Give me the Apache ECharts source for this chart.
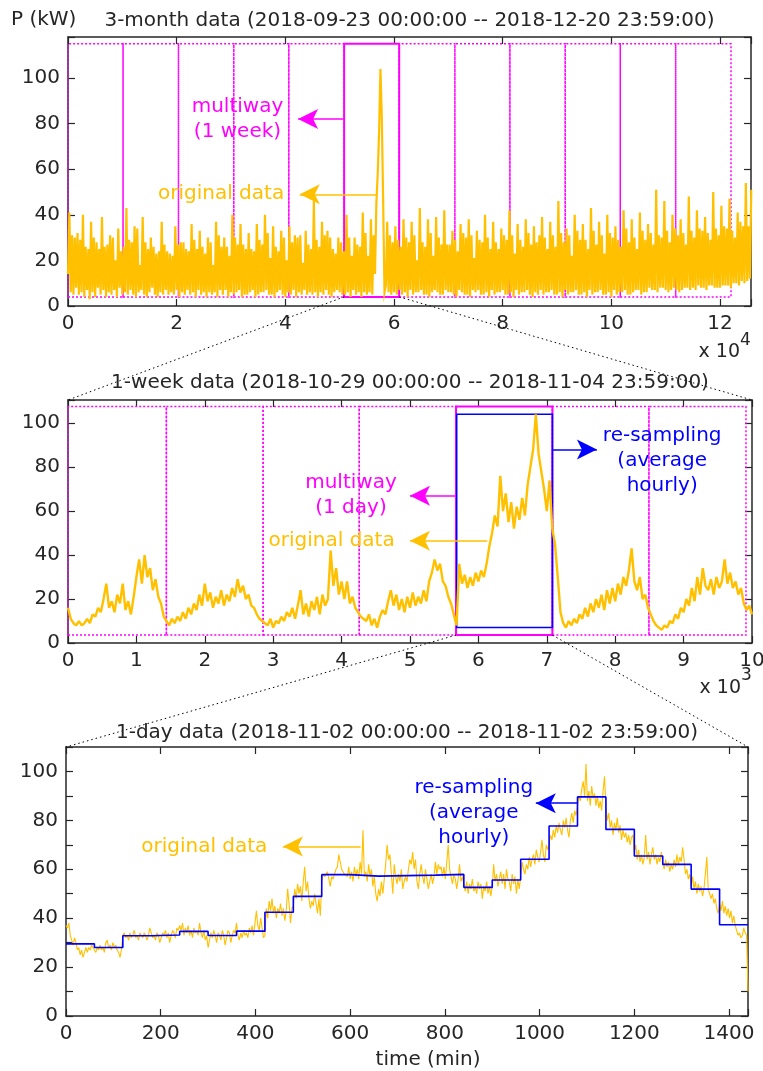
<!DOCTYPE html>
<html>
<head>
<meta charset="utf-8">
<script src="https://cdn.jsdelivr.net/npm/echarts@6/dist/echarts.min.js"></script>
<style>
  html, body { margin: 0; padding: 0; background: #ffffff; }
  #chart { width: 763px; height: 1071px; }
</style>
</head>
<body>
<div id="chart"></div>
<script>
// ---------------- data ----------------
// 3-month record: one value every 250 samples (minutes index)
const monthStep = 250;
const monthP = [
  14, 41, 6, 31, 5, 30,   8, 32, 5, 29, 6, 40,    4, 26, 7, 25, 3, 37,
  6, 30, 4, 28, 8, 25,    5, 39, 7, 26, 4, 27,    6, 31, 5, 30, 7, 20,
  4, 34, 8, 24, 5, 26,    6, 43, 5, 29, 7, 28,    5, 35, 4, 34, 6, 18,
  7, 39, 5, 28, 4, 25,    6, 30, 8, 26, 5, 23,    4, 24, 6, 37, 5, 27,
  7, 24, 5, 23, 6, 22,    5, 35, 7, 27, 4, 28,    6, 28, 5, 25, 7, 24,
  5, 36, 6, 29, 4, 25,    7, 33, 5, 26, 6, 23,    4, 30, 6, 28, 5, 18,
  6, 37, 4, 31, 7, 26,    5, 30, 7, 26, 4, 22,    6, 40, 5, 30, 6, 27,
  7, 36, 4, 27, 5, 25,    5, 32, 6, 25, 7, 24,    4, 36, 5, 29, 6, 27,
  6, 40, 7, 32, 5, 21,    5, 35, 4, 26, 6, 24,    7, 33, 5, 30, 4, 20,
  6, 35, 5, 28, 7, 31,    4, 30, 6, 31, 5, 19,    7, 33, 5, 27, 6, 25,
  5, 46, 6, 29, 4, 26,    6, 37, 5, 31, 7, 33,    5, 30, 4, 25, 6, 23,
  7, 30, 6, 28, 5, 24,    5, 40, 6, 30, 4, 22,    7, 30, 5, 27, 6, 26,
  4, 41, 6, 32, 5, 22,    6, 38, 5, 31, 14, 45,   58, 76, 104, 83, 46, 6,
  9, 37, 6, 31, 5, 28,    6, 35, 5, 29, 7, 26,    5, 38, 6, 30, 4, 28,
  7, 37, 5, 31, 6, 20,    6, 43, 7, 28, 5, 26,    5, 38, 4, 32, 6, 22,
  7, 39, 6, 30, 5, 27,    5, 42, 7, 27, 6, 27,    6, 33, 5, 29, 4, 24,
  7, 36, 6, 32, 5, 30,    5, 38, 4, 31, 7, 21,    6, 33, 7, 29, 5, 28,
  5, 40, 6, 30, 4, 25,    7, 37, 5, 28, 6, 25,    6, 34, 7, 31, 5, 29,
  5, 42, 6, 31, 4, 23,    7, 36, 5, 29, 6, 26,    6, 38, 7, 32, 5, 27,
  4, 35, 6, 28, 5, 31,    7, 39, 5, 30, 6, 25,    6, 37, 7, 31, 5, 26,
  5, 46, 6, 32, 4, 28,    7, 34, 5, 31, 6, 22,    6, 40, 7, 33, 5, 29,
  5, 36, 6, 29, 4, 25,    7, 43, 5, 33, 6, 27,    6, 37, 7, 31, 5, 23,
  5, 40, 6, 32, 4, 30,    7, 35, 5, 29, 6, 26,    6, 42, 7, 34, 5, 28,
  5, 38, 6, 30, 7, 25,    7, 41, 5, 33, 6, 29,    6, 36, 8, 32, 7, 27,
  7, 51, 6, 31, 8, 30,    8, 46, 7, 33, 6, 28,    7, 40, 8, 34, 7, 31,
  6, 38, 7, 32, 8, 27,    8, 48, 7, 33, 8, 30,    7, 42, 9, 34, 8, 33,
  8, 39, 7, 32, 9, 29,    9, 50, 8, 34, 8, 31,    8, 44, 9, 35, 9, 34,
  9, 47, 8, 33, 10, 30,   10, 41, 9, 37, 11, 35,  10, 54, 11, 35, 12, 51
];
const monthXMax = 125700;
const monthWeekEdges = [0, 10130, 20330, 30510, 40640, 50820, 60950, 71200, 81330, 91510, 101640, 111840, 122020];
const monthSelected = 5;
const monthBoxY = [4, 115];

// 1-week record: one value every 40 samples
const weekStep = 40;
const weekP = [
  16, 11, 9, 8, 10, 8,    9, 11, 9, 13, 12, 16,   14, 20, 27, 16, 19, 14,
  22, 18, 27, 15, 19, 13, 21, 30, 38, 27, 40, 30, 34, 24, 29, 21, 18, 12,
  10, 8, 11, 9, 12, 10,   14, 11, 16, 13, 18, 15, 22, 17, 27, 19, 23, 16,
  21, 18, 24, 17, 22, 19, 25, 21, 29, 23, 26, 20, 22, 17, 16, 13, 11, 10,
  9, 8, 11, 7, 10, 9,     12, 10, 14, 12, 16, 11, 17, 24, 13, 18, 12, 19,
  15, 21, 13, 22, 17, 20, 42, 26, 34, 22, 28, 20, 28, 18, 21, 16, 14, 12,
  11, 10, 13, 8, 11, 7,   12, 15, 13, 19, 24, 17, 22, 15, 20, 14, 21, 16,
  23, 17, 21, 18, 24, 19, 28, 32, 38, 33, 36, 28, 26, 21, 18, 13, 8, 36,
  27, 31, 25, 30, 26, 32, 28, 33, 30, 36, 44, 50, 58, 53, 76, 60, 68, 55,
  64, 52, 62, 56, 66, 58, 72, 80, 88, 104, 86, 78, 70, 60, 74, 52, 45, 30,
  14, 9, 7, 10, 8, 11,    9, 13, 11, 16, 12, 18,  14, 20, 16, 22, 15, 24,
  18, 25, 19, 27, 22, 30, 26, 33, 43, 28, 24, 30, 20, 22, 16, 13, 10, 8,
  7, 6, 8, 7, 10, 9,      13, 11, 16, 14, 20, 17, 25, 19, 30, 22, 34, 26,
  24, 29, 22, 30, 25, 28, 38, 27, 32, 25, 28, 22, 25, 18, 15, 17, 13
];
const weekXMax = 10000;
const weekDayEdges = [0, 1438, 2853, 4258, 5673, 7082, 8493, 9912];
const weekSelected = 4;
const weekBoxY = [3.6, 107.5];
const dayRangeY = [7, 104];

// 1-day record: one value every 3 minutes
const dayStep = 3;
const dayP = [
  37, 36, 38, 33, 31, 29, 32, 30, 27, 28, 25, 27, 24, 26, 28, 26, 28, 27, 29, 28,
  27, 26, 28, 27, 29, 27, 28, 26, 30, 31, 28, 29, 27, 30, 28, 29, 27, 26, 24, 27,
  33, 34, 32, 33, 31, 34, 32, 33, 35, 32, 33, 31, 34, 33, 32, 34, 33, 31, 33, 36,
  34, 32, 33, 31, 34, 33, 30, 32, 34, 33, 35, 32, 34, 30, 33, 35, 34, 32, 36, 35,
  37, 35, 38, 33, 36, 34, 37, 33, 35, 32, 36, 34, 35, 33, 38, 34, 32, 35, 31, 33,
  28, 31, 34, 32, 35, 33, 30, 34, 33, 31, 35, 33, 29, 32, 35, 34, 30, 33, 35, 34,
  38, 33, 31, 34, 32, 35, 33, 34, 32, 36, 34, 37, 33, 38, 43, 37, 35, 40, 36, 32,
  33, 44, 40, 47, 43, 48, 42, 45, 40, 44, 42, 46, 41, 44, 39, 43, 52, 46, 38, 44,
  45, 52, 48, 54, 50, 53, 47, 55, 61, 51, 55, 48, 44, 47, 45, 50, 46, 42, 48, 41,
  55, 58, 57, 57, 59, 56, 53, 57, 56, 58, 60, 61, 66, 63, 60, 60, 58, 58, 57, 61,
  56, 59, 55, 61, 57, 60, 56, 63, 58, 76, 57, 59, 55, 62, 57, 60, 53, 57, 50, 47,
  52, 49, 55, 50, 56, 62, 70, 64, 66, 58, 50, 62, 57, 54, 58, 55, 60, 52, 55, 57,
  55, 60, 64, 62, 67, 60, 64, 55, 52, 58, 62, 57, 54, 60, 56, 52, 55, 58, 54, 57,
  63, 58, 62, 60, 61, 57, 61, 56, 63, 70, 60, 57, 54, 58, 56, 52, 56, 62, 55, 57,
  54, 51, 55, 50, 54, 52, 56, 51, 53, 50, 55, 52, 54, 48, 53, 51, 55, 50, 53, 49,
  53, 62, 55, 58, 53, 56, 59, 54, 58, 52, 60, 56, 55, 51, 58, 54, 57, 50, 56, 52,
  57, 63, 60, 58, 62, 60, 65, 61, 64, 66, 62, 68, 65, 63, 67, 72, 66, 63, 70, 68,
  70, 74, 72, 76, 73, 78, 75, 79, 76, 74, 80, 77, 81, 76, 73, 80, 83, 79, 84, 82,
  86, 90, 88, 93, 96, 90, 103, 88, 92, 86, 94, 89, 91, 86, 90, 85, 88, 84, 92, 98,
  86, 80, 83, 77, 80, 74, 79, 76, 81, 75, 78, 72, 76, 73, 75, 71, 74, 70, 73, 74,
  67, 70, 64, 68, 63, 66, 62, 65, 74, 64, 67, 62, 66, 69, 64, 66, 62, 65, 63, 67,
  63, 60, 64, 61, 63, 59, 62, 60, 64, 61, 66, 62, 65, 63, 69, 64, 58, 60, 56, 58,
  53, 57, 52, 55, 50, 54, 51, 53, 49, 52, 58, 65, 52, 50, 48, 50, 46, 48, 44, 42,
  46, 43, 47, 42, 45, 41, 44, 40, 43, 38, 41, 37, 35, 33, 34, 32, 33, 36, 34, 33,
  10
];
const dayXMax = 1440;

// hourly averages of the 1-day record
const hourMinutes = 60;
const hourlyMean = [29.5, 28.0, 32.8, 33.1, 34.6, 32.9, 34.7, 42.4, 48.9, 57.8, 57.2, 57.4,
                    57.6, 57.9, 52.6, 55.6, 64.1, 77.7, 89.6, 76.3, 65.4, 62.0, 51.9, 37.3];

// ---------------- styling ----------------
const INK = '#262626';
const ORANGE = '#ffc000';
const MAGENTA = '#ff00ff';
const BLUE = '#0000ff';
const FONT = 'DejaVu Sans';

const monthSeries = monthP.map((v, i) => [i * monthStep, v]);
const weekSeries = weekP.map((v, i) => [i * weekStep, v]);
const daySeries = dayP.map((v, i) => [i * dayStep, v]);
const hourlySeries = hourlyMean.map((v, h) => [h * hourMinutes, v]);
hourlySeries.push([hourlyMean.length * hourMinutes, hourlyMean[hourlyMean.length - 1]]);

function axisPair(gridIndex, dir, min, max, interval, formatter) {
  const common = {
    type: 'value', gridIndex, min, max, interval,
    axisLine: { show: true, onZero: false, lineStyle: { color: INK, width: 1.5 } },
    axisTick: { show: true, inside: true, length: 7, lineStyle: { color: INK, width: 1.2 } },
    splitLine: { show: false },
    minorTick: { show: false }
  };
  const main = Object.assign({}, common, {
    position: dir === 'x' ? 'bottom' : 'left',
    axisLabel: { show: true, color: INK, fontSize: 20, fontFamily: FONT, margin: 8, formatter,
                 showMinLabel: true, showMaxLabel: true, hideOverlap: false }
  });
  const mirror = Object.assign({}, common, {
    position: dir === 'x' ? 'top' : 'right',
    axisLabel: { show: false }
  });
  return [main, mirror];
}

const xAxes = [].concat(
  axisPair(0, 'x', 0, monthXMax, 20000, v => (v % 20000 === 0 ? String(v / 10000) : '')),
  axisPair(1, 'x', 0, weekXMax, 1000, v => (v % 1000 === 0 ? String(v / 1000) : '')),
  axisPair(2, 'x', 0, dayXMax, 200, v => (v % 200 === 0 ? String(v) : ''))
);
const yAxes = [].concat(
  axisPair(0, 'y', 0, 118, 20, v => (v % 20 === 0 ? String(v) : '')),
  axisPair(1, 'y', 0, 110.5, 20, v => (v % 20 === 0 ? String(v) : '')),
  axisPair(2, 'y', 0, 110, 10, v => (v % 20 === 0 && v <= 100 ? String(v) : ''))
);

function boxes(edges, yr, selected) {
  const out = [];
  for (let k = 0; k < edges.length - 1; k++) {
    if (k === selected) continue;
    out.push([
      { xAxis: edges[k], yAxis: yr[0],
        itemStyle: { color: 'rgba(0,0,0,0)', borderColor: MAGENTA, borderWidth: 1.5, borderType: [2, 2] } },
      { xAxis: edges[k + 1], yAxis: yr[1] }
    ]);
  }
  out.push([
    { xAxis: edges[selected], yAxis: yr[0],
      itemStyle: { color: 'rgba(0,0,0,0)', borderColor: MAGENTA, borderWidth: 2, borderType: 'solid' } },
    { xAxis: edges[selected + 1], yAxis: yr[1] }
  ]);
  return out;
}

function arrow(x1, x2, y, color) {
  return [
    { coord: [x1, y], symbol: 'none', lineStyle: { color, width: 1.5, type: 'solid' } },
    { coord: [x2, y], symbol: 'arrow', symbolSize: [15, 20], lineStyle: { color, width: 1.5, type: 'solid' },
      itemStyle: { color } }
  ];
}

function note(x, y, text, color) {
  return {
    coord: [x, y], symbol: 'circle', symbolSize: 0,
    itemStyle: { color: 'rgba(0,0,0,0)' },
    label: { show: true, position: 'inside', formatter: text, color, fontSize: 20, fontFamily: FONT,
             lineHeight: 25, align: 'center', verticalAlign: 'middle' }
  };
}

function overlay(g, areas, lines, notes) {
  return {
    type: 'line', xAxisIndex: 2 * g, yAxisIndex: 2 * g, data: [], z: 5, silent: true,
    markArea: { silent: true, label: { show: false }, data: areas },
    markLine: { silent: true, label: { show: false }, symbol: ['none', 'arrow'], animation: false, data: lines },
    markPoint: { silent: true, animation: false, data: notes }
  };
}

const mS = monthWeekEdges[monthSelected], mE = monthWeekEdges[monthSelected + 1];
const wS = weekDayEdges[weekSelected], wE = weekDayEdges[weekSelected + 1];

const blueBox = [[
  { xAxis: wS + 10, yAxis: dayRangeY[0],
    itemStyle: { color: 'rgba(0,0,0,0)', borderColor: BLUE, borderWidth: 1.5, borderType: 'solid' } },
  { xAxis: wE, yAxis: dayRangeY[1] }
]];

const option = {
  animation: false,
  backgroundColor: '#ffffff',
  grid: [
    { left: 68, top: 37, width: 683, height: 269, containLabel: false, outerBoundsMode: 'none' },
    { left: 68, top: 400, width: 684, height: 243, containLabel: false, outerBoundsMode: 'none' },
    { left: 66, top: 747, width: 682, height: 269, containLabel: false, outerBoundsMode: 'none' }
  ],
  xAxis: xAxes,
  yAxis: yAxes,
  series: [
    { type: 'line', name: 'original data (3 months)', xAxisIndex: 0, yAxisIndex: 0, data: monthSeries,
      showSymbol: false, sampling: 'none', lineStyle: { color: ORANGE, width: 2.2, join: 'miter' }, z: 2, silent: true },
    { type: 'line', name: 'original data (1 week)', xAxisIndex: 2, yAxisIndex: 2, data: weekSeries,
      showSymbol: false, sampling: 'none', lineStyle: { color: ORANGE, width: 2.4 }, z: 2, silent: true },
    { type: 'line', name: 'original data (1 day)', xAxisIndex: 4, yAxisIndex: 4, data: daySeries,
      showSymbol: false, sampling: 'none', lineStyle: { color: ORANGE, width: 1.1 }, z: 2, silent: true },
    { type: 'line', name: 're-sampling', xAxisIndex: 4, yAxisIndex: 4, data: hourlySeries, step: 'end',
      showSymbol: false, lineStyle: { color: BLUE, width: 1.6 }, z: 3, silent: true },

    overlay(0, boxes(monthWeekEdges, monthBoxY, monthSelected),
      [arrow(mS, 42350, 82, MAGENTA), arrow(56790, 42660, 49, ORANGE)],
      [note(31190, 82, 'multiway\n(1 week)', MAGENTA), note(28170, 49, 'original data', ORANGE)]),

    overlay(1, boxes(weekDayEdges, weekBoxY, weekSelected).concat(blueBox),
      [arrow(wS, 5000, 67, MAGENTA), arrow(6131, 5000, 46.5, ORANGE), arrow(wE, 7732, 88, BLUE)],
      [note(4137, 67, 'multiway\n(1 day)', MAGENTA), note(3854, 46.5, 'original data', ORANGE),
       note(8687, 83, 're-sampling\n(average\nhourly)', BLUE)]),

    overlay(2, [],
      [arrow(622, 458, 69.3, ORANGE), arrow(1081, 992, 87, BLUE)],
      [note(292, 69.3, 'original data', ORANGE), note(861, 82.9, 're-sampling\n(average\nhourly)', BLUE)])
  ]
};

const chart = echarts.init(document.getElementById('chart'), null, { renderer: 'canvas' });
chart.setOption(option);

// titles, axis multipliers and the dotted zoom connectors between panels
const toPx = (g, pt) => chart.convertToPixel({ xAxisIndex: 2 * g, yAxisIndex: 2 * g }, pt);
function txt(x, y, text, size, align, color) {
  return { type: 'text', x, y, z: 10, silent: true,
    style: { text, fill: color || INK, font: size + 'px "' + FONT + '"',
             textAlign: align, textVerticalAlign: 'middle', align, verticalAlign: 'middle' } };
}
function dots(a, b) {
  return { type: 'line', z: 9, silent: true,
    shape: { x1: a[0], y1: a[1], x2: b[0], y2: b[1] },
    style: { stroke: '#000000', lineWidth: 1, lineDash: [1.5, 3] } };
}
const c0 = toPx(0, [monthXMax / 2, 0])[0];
const c1 = toPx(1, [weekXMax / 2, 0])[0];
const c2 = toPx(2, [dayXMax / 2, 0])[0];

chart.setOption({
  graphic: [
    txt(11, 20, 'P (kW)', 20, 'left'),
    txt(c0, 21, '3-month data (2018-09-23 00:00:00 -- 2018-12-20 23:59:00)', 20, 'center'),
    txt(c1, 383, '1-week data (2018-10-29 00:00:00 -- 2018-11-04 23:59:00)', 20, 'center'),
    txt(c2, 733, '1-day data (2018-11-02 00:00:00 -- 2018-11-02 23:59:00)', 20, 'center'),
    txt(740, 352, 'x 10', 19, 'right'),
    txt(740, 341, '4', 17, 'left'),
    txt(741, 688, 'x 10', 19, 'right'),
    txt(741, 676, '3', 17, 'left'),
    txt(c2 + 21, 1060, 'time (min)', 20, 'center'),
    dots(toPx(0, [mS, monthBoxY[0]]), toPx(1, [0, 110.5])),
    dots(toPx(0, [mE, monthBoxY[0]]), toPx(1, [weekXMax, 110.5])),
    dots(toPx(1, [wS, weekBoxY[0]]), toPx(2, [0, 110])),
    dots(toPx(1, [wE, weekBoxY[0]]), toPx(2, [dayXMax, 110]))
  ]
});
</script>
</body>
</html>
